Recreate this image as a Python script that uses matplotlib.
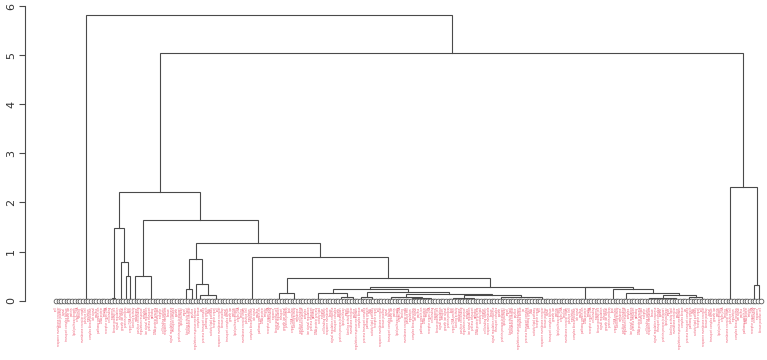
import matplotlib.pyplot as plt

# dendrogram, left to right: (merge height, left child, right child)
# an int is a block of leaves that join at height 0
left_block = (0, 13, 8)
a1 = (1.49, (0.05, 1, 1), (0.78, 3, (0.50, 1, 2)))
a2_left = (0.51, 2, (0, 1, 16))
n196 = (0.84, (0.23, 2, 2), (0.35, 1, (0.12, 2, 10)))
n286 = (0.15, 3, 8)
n333 = (0.15, 10, (0.08, 7, 2))
n452 = (0.13, (0.08, 10, (0.05, 6, 8)), (0.11, (0.05, 8, 8), (0.07, 12, 18)))
n372 = (0.245, n333, (0.18, (0.07, 4, 4), n452))
c_branch = (0.27, 14, (0.23, 7, (0.15, 3, (0.12, (0.05, 14, 6), (0.07, 4, 5)))))
n388 = (0.46, n286, (0.285, n372, c_branch))
n321 = (0.89, 17, n388)
a2 = (1.64, a2_left, (1.18, n196, n321))
right_branch = (2.32, 16, (0.32, 2, 2))
tree = (5.82, left_block, (5.05, (2.22, a1, a2), right_branch))

# leaf labels (too small to read in the source)
words = ["cell", "signal", "protein", "binding", "regulation", "process", "activity",
         "response", "transport", "lipid", "membrane", "complex", "pathway",
         "receptor", "kinase", "growth", "organ", "positive", "ion", "DNA"]

line_col = '#4a4a4a'
fig = plt.figure(figsize=(7.67, 3.6), dpi=100)
ax = fig.add_axes([25 / 767, 59.3 / 360, 742 / 767, 294.7 / 360])

counter = [0]


def draw(node):
    if isinstance(node, int):
        start = counter[0]
        counter[0] += node
        return start + (node - 1) / 2, 0.0
    h, left, right = node
    lx, lh = draw(left)
    rx, rh = draw(right)
    if h > 0:
        ax.plot([lx, lx, rx, rx], [lh, h, h, rh], color=line_col, lw=0.8,
                solid_joinstyle='miter')
    return (lx + rx) / 2, h


draw(tree)
n_leaves = counter[0]
leaf_x = list(range(n_leaves))
labels = [" ".join(words[(i * 7 + k * 3) % len(words)] for k in range(1 + (i * 5) % 3))
          for i in leaf_x]

ax.plot(leaf_x, [0] * n_leaves, 'o', ms=3.4, mfc='white', mec='#5a5a5a', mew=0.6,
        clip_on=False, zorder=3)
for x, lab in zip(leaf_x, labels):
    ax.annotate(lab, (x, 0), xytext=(0, -4.5), textcoords='offset points',
                rotation=90, ha='center', va='top', fontsize=1.9, color='#ee5a72')

ax.set_xlim((25 - 56) / 2.69, (767 - 56) / 2.69)
ax.set_ylim(0, 6)
for s in ['top', 'right', 'bottom']:
    ax.spines[s].set_visible(False)
ax.spines['left'].set_bounds(0, 6)
ax.spines['left'].set_color(line_col)
ax.spines['left'].set_linewidth(0.8)
ax.set_xticks([])
ax.set_yticks(range(7))
ax.set_yticklabels([str(v) for v in range(7)], rotation=90, va='center',
                   fontsize=8, color='#333333')
ax.tick_params(axis='y', length=4.5, width=0.8, color=line_col, pad=2)

fig.savefig('out.png', dpi=100)
